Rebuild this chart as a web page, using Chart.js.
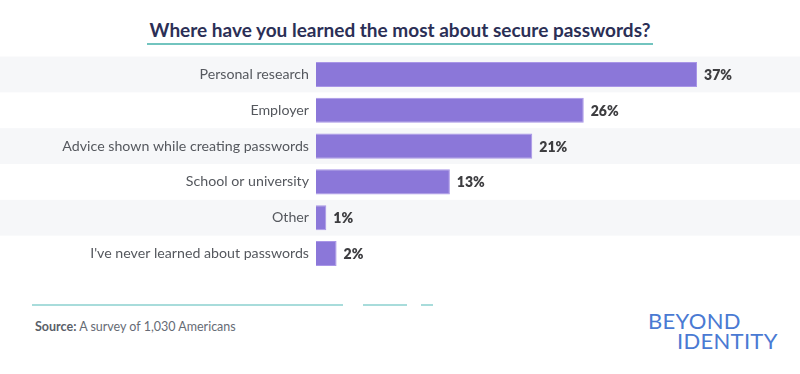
<!DOCTYPE html>
<html>
<head>
<meta charset="utf-8">
<script src="https://cdn.jsdelivr.net/npm/chart.js@4"></script>
<style>
  html, body { margin: 0; padding: 0; background: #fff; }
  body { width: 800px; height: 374px; position: relative; overflow: hidden; font-family: 'Lato', sans-serif; }
  .title { position: absolute; left: 0; width: 800px; top: 18px; text-align: center; }
  .title span { display: inline-block; font-size: 19px; font-weight: 700; color: #2b2f56; padding: 0 3px 1px; border-bottom: 2px solid #72c4bf; line-height: 24px; }
  .wrap { position: absolute; left: 0; top: 41px; width: 800px; height: 246px; }
  .rule { position: absolute; top: 304px; height: 2px; background: #a8dcdb; }
  .source { position: absolute; left: 35px; top: 319px; font-size: 12.5px; color: #666b75; }
  .source b { color: #5a5f69; }
  .logo { position: absolute; color: #4a7ad3; font-size: 22px; letter-spacing: 0.3px; font-weight: 400; line-height: 1; }
</style>
</head>
<body>
  <div class="title"><span>Where have you learned the most about secure passwords?</span></div>
  <div class="wrap"><canvas id="chart"></canvas></div>
  <div class="rule" style="left:32px;width:311px"></div>
  <div class="rule" style="left:363px;width:44px"></div>
  <div class="rule" style="left:421px;width:12px"></div>
  <div class="source"><b>Source:</b> A survey of 1,030 Americans</div>
  <div class="logo" style="left:648px;top:310px">BEYOND</div>
  <div class="logo" style="left:677px;top:330px">IDENTITY</div>
<script>
const categories = [
  'Personal research',
  'Employer',
  'Advice shown while creating passwords',
  'School or university',
  'Other',
  "I've never learned about passwords",
]
const shares = [37, 26, 21, 13, 1, 2]

// alternating row bands behind the bars
const bands = {
  id: 'bands',
  beforeDraw(chart) {
    const { ctx } = chart
    const y = chart.scales.y
    const step = y.height / categories.length
    ctx.save()
    categories.forEach((_, i) => {
      if (i % 2) return
      ctx.fillStyle = '#f6f7f9'
      ctx.fillRect(0, y.getPixelForValue(i) - step / 2, chart.width, step)
    })
    ctx.restore()
  },
}

const valueLabels = {
  id: 'valueLabels',
  afterDatasetsDraw(chart) {
    const { ctx } = chart
    ctx.save()
    ctx.font = "800 14px 'Lato', sans-serif"
    ctx.fillStyle = '#3d3d40'
    ctx.textBaseline = 'middle'
    chart.getDatasetMeta(0).data.forEach((bar, i) => {
      ctx.fillText(shares[i] + '%', bar.x + 7, bar.y + 1)
    })
    ctx.restore()
  },
}

new Chart(document.getElementById('chart'), {
  type: 'bar',
  data: {
    labels: categories,
    datasets: [{
      data: shares,
      backgroundColor: '#8b77d9',
      borderColor: '#a996e7',
      borderWidth: 1,
      barPercentage: 0.7,
      categoryPercentage: 1,
    }],
  },
  options: {
    indexAxis: 'y',
    responsive: true, maintainAspectRatio: false,
    animation: false,
    layout: { padding: 0 },
    plugins: { legend: { display: false }, tooltip: { enabled: false } },
    scales: {
      x: { display: false, min: 0, max: 47 },
      y: {
        grid: { display: false, drawTicks: false }, border: { display: false },
        ticks: { color: '#55585e', padding: 7, font: { family: "'Lato', sans-serif", size: 14.2 } },
        afterFit(scale) { scale.width = 316 },
      },
    },
  },
  plugins: [bands, valueLabels],
})
</script>
</body>
</html>
